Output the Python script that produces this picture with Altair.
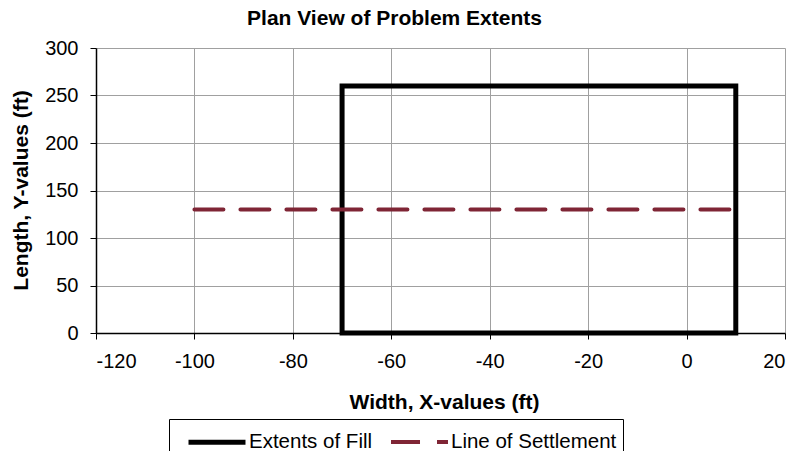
import altair as alt
import pandas as pd

# Data
series_names = ["Extents of Fill", "Line of Settlement"]
fill_x = [-70, -70, 10, 10, -70]
fill_y = [0, 260, 260, 0, 0]
settle_x = [-100, 10]
settle_y = [130, 130]

x_ticks = [-120, -100, -80, -60, -40, -20, 0, 20]
y_ticks = [0, 50, 100, 150, 200, 250, 300]

rows = []
for i, (x, y) in enumerate(zip(fill_x, fill_y)):
    rows.append({"series": series_names[0], "x": x, "y": y, "order": i})
for i, (x, y) in enumerate(zip(settle_x, settle_y)):
    rows.append({"series": series_names[1], "x": x, "y": y, "order": i})
df = pd.DataFrame(rows)

FONT = "Liberation Sans"

color_scale = alt.Scale(domain=series_names, range=["#000000", "#7F2535"])
dash_scale = alt.Scale(domain=series_names, range=[[1, 0], [29, 17]])
width_scale = alt.Scale(domain=series_names, range=[5, 4])

x_enc = alt.X(
    "x:Q",
    scale=alt.Scale(domain=[-120, 20], nice=False, zero=False),
    axis=alt.Axis(
        values=x_ticks,
        labelExpr="toString(datum.value)",
        title="Width, X-values (ft)",
        titleX=348,
        titleY=75,
        titleBaseline="alphabetic",
        labelPadding=12,
    ),
)
y_enc = alt.Y(
    "y:Q",
    scale=alt.Scale(domain=[0, 300], nice=False),
    axis=alt.Axis(
        values=y_ticks,
        labelExpr="toString(datum.value)",
        title="Length, Y-values (ft)",
        titleX=-69,
        titleY=142,
        titleAngle=270,
        titleBaseline="alphabetic",
        labelPadding=12,
    ),
)

enc = dict(
    x=x_enc,
    y=y_enc,
    order=alt.Order("order:Q"),
    color=alt.Color("series:N", scale=color_scale, title=None),
    strokeDash=alt.StrokeDash("series:N", scale=dash_scale, title=None),
    strokeWidth=alt.StrokeWidth("series:N", scale=width_scale, title=None),
)

fill_layer = (
    alt.Chart(df)
    .transform_filter(alt.datum.series == series_names[0])
    .mark_line(strokeCap="square", strokeJoin="miter")
    .encode(**enc)
)
settle_layer = (
    alt.Chart(df)
    .transform_filter(alt.datum.series == series_names[1])
    .mark_line(strokeCap="round")
    .encode(**enc)
)

chart = (
    alt.layer(fill_layer, settle_layer)
    .properties(
        width=689,
        height=285,
        autosize=alt.AutoSizeParams(type="none"),
        padding={"left": 88, "top": 40, "right": 5, "bottom": 118},
        title=alt.TitleParams(
            "Plan View of Problem Extents",
            font=FONT,
            fontSize=21,
            fontWeight="bold",
            color="#000000",
            anchor="middle",
            dx=-46,
            dy=22,
            offset=14,
            baseline="alphabetic",
        ),
    )
    .configure_view(stroke=None)
    .configure_axis(
        labelFont=FONT,
        labelFontSize=20,
        labelColor="#000000",
        titleFont=FONT,
        titleFontSize=21,
        titleFontWeight="bold",
        titleColor="#000000",
        domainColor="#000000",
        domainWidth=1.5,
        tickColor="#000000",
        tickSize=6,
        tickWidth=1,
        gridColor="#A0A0A0",
        gridWidth=1,
        grid=True,
    )
    .configure_legend(
        orient="none",
        legendX=73,
        legendY=371,
        direction="horizontal",
        strokeColor="#000000",
        strokeWidth=1,
        fillColor="#FFFFFF",
        padding=6,
        symbolType="M-2,0H2",
        symbolSize=812,
        symbolOffset=25,
        labelFont=FONT,
        labelFontSize=20.5,
        labelColor="#000000",
        labelOffset=15,
        labelLimit=400,
        columnPadding=5,
    )
)

chart.save("out.html", embed_options={"renderer": "svg", "actions": False})
